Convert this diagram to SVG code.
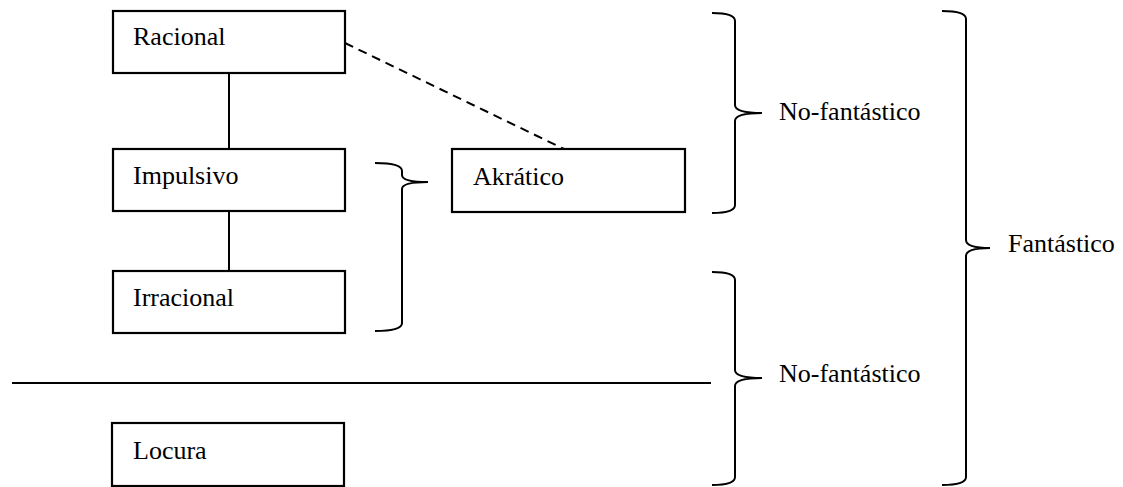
<svg xmlns="http://www.w3.org/2000/svg" width="1123" height="487" viewBox="0 0 1123 487">
<style>
.box{fill:#fff;stroke:#000;stroke-width:2.2}
.t{font-family:"Liberation Serif","Times New Roman",serif;font-size:26px;fill:#000}
.ln{fill:none;stroke:#000;stroke-width:2}
.br{fill:none;stroke:#000;stroke-width:2}
</style>
<rect width="1123" height="487" fill="#fff"/>
<g id="connectors">
<line class="ln" x1="229" y1="73" x2="229" y2="149"/>
<line class="ln" x1="229" y1="211" x2="229" y2="271"/>
<line class="ln" x1="345" y1="43" x2="564" y2="149" stroke-dasharray="9,6"/>
<line class="ln" x1="12" y1="383" x2="711" y2="383"/>
</g>
<g id="racional"><rect class="box" x="113" y="11" width="232" height="62"/><text class="t" x="133" y="45">Racional</text></g>
<g id="impulsivo"><rect class="box" x="113" y="149" width="232" height="62"/><text class="t" x="133" y="184">Impulsivo</text></g>
<g id="irracional"><rect class="box" x="113" y="271" width="232" height="62"/><text class="t" x="133" y="306">Irracional</text></g>
<g id="akratico"><rect class="box" x="452" y="149" width="233" height="63"/><text class="t" x="473" y="185">Akrático</text></g>
<g id="locura"><rect class="box" x="112" y="423" width="232" height="63"/><text class="t" x="133" y="459">Locura</text></g>
<g id="brace-impulsivo-irracional"><path class="br" d="M375,163 Q402,163 402,171 L402,175 Q402,182 428,182 Q402,182 402,189 L402,323 Q402,331 375,331"/></g>
<g id="brace-nofantastico-1"><path class="br" d="M712,13 Q735,13 735,21 L735,105 Q735,113 762,113 Q735,113 735,121 L735,205 Q735,213 712,213"/><text class="t" x="779" y="120">No-fantástico</text></g>
<g id="brace-nofantastico-2"><path class="br" d="M712,272 Q735,272 735,280 L735,370 Q735,378 762,378 Q735,378 735,386 L735,477 Q735,485 712,485"/><text class="t" x="779" y="382">No-fantástico</text></g>
<g id="brace-fantastico"><path class="br" d="M942,11 Q966,11 966,19 L966,240 Q966,248 990,248 Q966,248 966,256 L966,477 Q966,485 942,485"/><text class="t" x="1008" y="252">Fantástico</text></g>
</svg>
